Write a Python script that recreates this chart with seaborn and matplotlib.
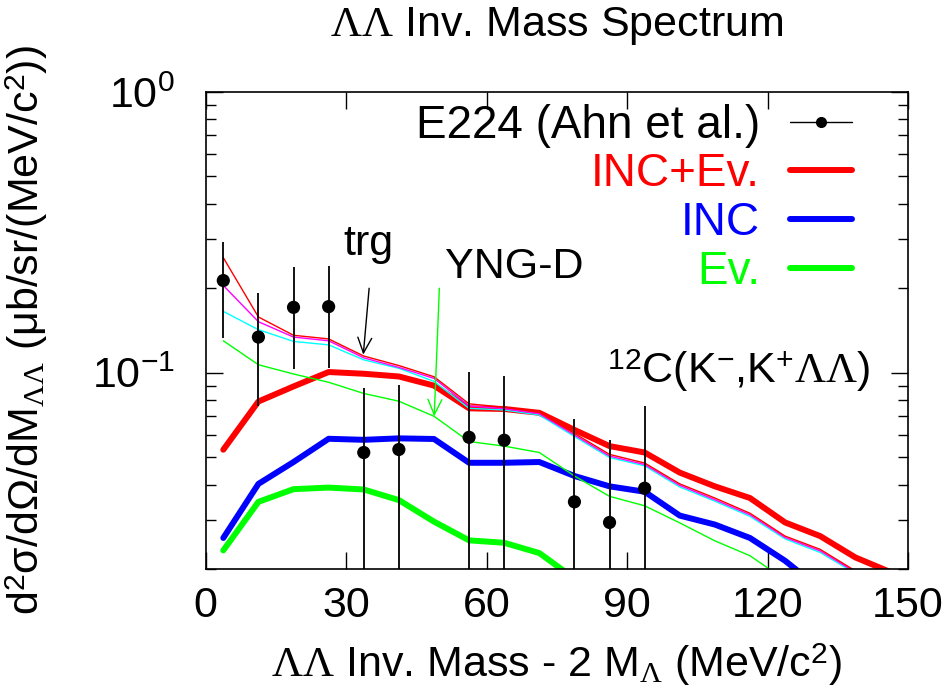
import matplotlib
matplotlib.use("Agg")
import matplotlib.pyplot as plt
import seaborn as sns
import pandas as pd
from matplotlib.lines import Line2D
from matplotlib.ticker import FixedLocator, LogLocator, NullFormatter, NullLocator

# E224 (Ahn et al.) data points
e224_x = [3.75, 11.25, 18.75, 26.25, 33.75, 41.25, 56.25, 63.75, 78.75, 86.25, 93.75]
e224_y = [0.213, 0.134, 0.171, 0.172, 0.052, 0.0533, 0.0589, 0.0575, 0.0347, 0.0293, 0.0388]
e224_err = [0.080, 0.058, 0.068, 0.068, 0.036, 0.037, 0.042, 0.040, 0.034, 0.0285, 0.0373]

# calculation bins (MeV/c^2)
bins = [3.75, 11.25, 18.75, 26.25, 33.75, 41.25, 48.75, 56.25, 63.75, 71.25,
        78.75, 86.25, 93.75, 101.25, 108.75, 116.25, 123.75, 131.25, 138.75, 146.25]

inc_ev = [0.0532, 0.079, 0.0894, 0.1006, 0.0992, 0.097, 0.090, 0.0747, 0.0743, 0.072,
          0.0626, 0.0548, 0.0520, 0.0441, 0.0394, 0.0358, 0.0293, 0.0262, 0.0220, 0.0195]
inc = [0.0258, 0.0402, 0.0481, 0.0582, 0.0577, 0.0584, 0.0581, 0.0478, 0.0478, 0.0481,
       0.0429, 0.0394, 0.0377, 0.0310, 0.0288, 0.0258, 0.0214, 0.0170]
ev = [0.0233, 0.0347, 0.0385, 0.0390, 0.0384, 0.0352, 0.0295, 0.0253, 0.0248, 0.0228, 0.0185]

# thin curves (trg / YNG-D variants)
thin_red = [0.257, 0.158, 0.136, 0.132, 0.1147, 0.1061, 0.0968, 0.0775, 0.0754, 0.0724,
            0.0608, 0.0512, 0.0477, 0.0402, 0.0358, 0.0316, 0.0262, 0.0235, 0.0197]
thin_magenta = [0.2046, 0.152, 0.134, 0.130, 0.113, 0.1045, 0.0955, 0.0762, 0.0745, 0.0715,
                0.0600, 0.0505, 0.0471, 0.0397, 0.0353, 0.0312, 0.0259, 0.0232, 0.0195]
thin_cyan = [0.1654, 0.1424, 0.1293, 0.1257, 0.1112, 0.1037, 0.0932, 0.0747, 0.0737, 0.0707,
             0.0593, 0.0499, 0.0466, 0.0392, 0.0349, 0.0308, 0.0256, 0.0229, 0.0193]
thin_green = [0.130, 0.1068, 0.099, 0.0925, 0.0844, 0.0792, 0.0700, 0.0569, 0.0548, 0.0520,
              0.0429, 0.0363, 0.0336, 0.0292, 0.0252, 0.0223, 0.0183]

x_ticks = [0, 30, 60, 90, 120, 150]

sns.set_theme(style="ticks")
plt.rcParams["font.family"] = ["Liberation Sans", "DejaVu Sans"]
plt.rcParams["mathtext.fontset"] = "custom"
plt.rcParams["mathtext.rm"] = "Liberation Serif"
plt.rcParams["mathtext.it"] = "Liberation Serif:italic"
plt.rcParams["mathtext.sf"] = "Liberation Sans"
plt.rcParams["axes.unicode_minus"] = False
plt.rcParams["text.color"] = "black"
plt.rcParams["axes.labelcolor"] = "black"

FS = 31

fig = plt.figure(figsize=(9.49, 6.92), dpi=100)
ax = fig.add_axes([0.2168, 0.1777, 0.7400, 0.6894])

# thick curves first
sns.lineplot(x=bins[:len(inc_ev)], y=inc_ev, ax=ax, color="#ff0000", linewidth=4.3)
sns.lineplot(x=bins[:len(inc)], y=inc, ax=ax, color="#0000ff", linewidth=4.3)
sns.lineplot(x=bins[:len(ev)], y=ev, ax=ax, color="#00ff00", linewidth=4.3)

# thin curves on top
sns.lineplot(x=bins[:len(thin_green)], y=thin_green, ax=ax, color="#00ff00", linewidth=1.0)
sns.lineplot(x=bins[:len(thin_cyan)], y=thin_cyan, ax=ax, color="#00ffff", linewidth=1.0)
sns.lineplot(x=bins[:len(thin_magenta)], y=thin_magenta, ax=ax, color="#ff00ff", linewidth=1.0)
sns.lineplot(x=bins[:len(thin_red)], y=thin_red, ax=ax, color="#ff0000", linewidth=1.0)

# data
ax.errorbar(e224_x, e224_y, yerr=e224_err, fmt="none", ecolor="black", elinewidth=1.3, capsize=0)
sns.scatterplot(x=e224_x, y=e224_y, ax=ax, color="black", s=90, edgecolor="none", zorder=5)

ax.set_yscale("log")
ax.set_xlim(0, 150)
ax.set_ylim(0.02, 1.0)

ax.xaxis.set_major_locator(FixedLocator(x_ticks))
ax.xaxis.set_minor_locator(NullLocator())
ax.yaxis.set_major_locator(LogLocator(base=10, numticks=10))
ax.yaxis.set_minor_locator(LogLocator(base=10, subs=[2, 3, 4, 5, 6, 7, 8, 9], numticks=20))
ax.yaxis.set_minor_formatter(NullFormatter())

ax.tick_params(axis="both", which="both", direction="in", top=True, right=True,
               colors="black", labelsize=FS)
ax.tick_params(axis="both", which="major", length=12, width=1.0)
ax.tick_params(axis="y", which="minor", length=7, width=1.0)
ax.tick_params(axis="x", which="major", pad=12)
ax.tick_params(axis="y", which="major", pad=22)
for s in ax.spines.values():
    s.set_linewidth(1.2)
    s.set_color("black")

ax.set_title(r"$\Lambda\Lambda$ Inv. Mass Spectrum", fontsize=FS, pad=40, color="black")
ax.set_xlabel(r"$\Lambda\Lambda$ Inv. Mass - 2 M$_\Lambda$ (MeV/c$^\mathsf{2}$)", fontsize=FS, labelpad=11)
ax.set_ylabel(r"d$^\mathsf{2}$σ/dΩ/dM$_{\Lambda\Lambda}$ (μb/sr/(MeV/c$^\mathsf{2}$))", fontsize=FS, labelpad=30)

# annotations
ax.annotate("", xy=(33.65, 0.116), xytext=(34.9, 0.200),
            arrowprops=dict(arrowstyle="->,head_length=0.55,head_width=0.25", color="black",
                            lw=1.0, shrinkA=0, shrinkB=0, mutation_scale=20))
ax.annotate("", xy=(48.8, 0.0699), xytext=(49.9, 0.200),
            arrowprops=dict(arrowstyle="->,head_length=0.55,head_width=0.25", color="#00ff00",
                            lw=1.0, shrinkA=0, shrinkB=0, mutation_scale=20))
ax.text(34.7, 0.263, "trg", fontsize=FS, ha="center", va="baseline")
ax.text(65.8, 0.218, "YNG-D", fontsize=FS, ha="center", va="baseline")
ax.text(141.9, 0.0921, r"$^\mathsf{12}$C(K$^\mathsf{-}$,K$^\mathsf{+}\Lambda\Lambda$)",
        fontsize=FS, ha="right", va="baseline")

handles = [
    Line2D([], [], color="black", lw=1.0, marker="o", markersize=7),
    Line2D([], [], color="#ff0000", lw=4.3),
    Line2D([], [], color="#0000ff", lw=4.3),
    Line2D([], [], color="#00ff00", lw=4.3),
]
labels = ["E224 (Ahn et al.)", "INC+Ev.", "INC", "Ev."]
ax.legend(handles, labels, loc="upper right", bbox_to_anchor=(0.92, 0.975), frameon=False,
          markerfirst=False, numpoints=1, fontsize=33, handlelength=1.35, handletextpad=0.65,
          labelspacing=0.1, borderpad=0, borderaxespad=0,
          labelcolor=["black", "#ff0000", "#0000ff", "#00ff00"])

fig.savefig("out.png", dpi=100)
